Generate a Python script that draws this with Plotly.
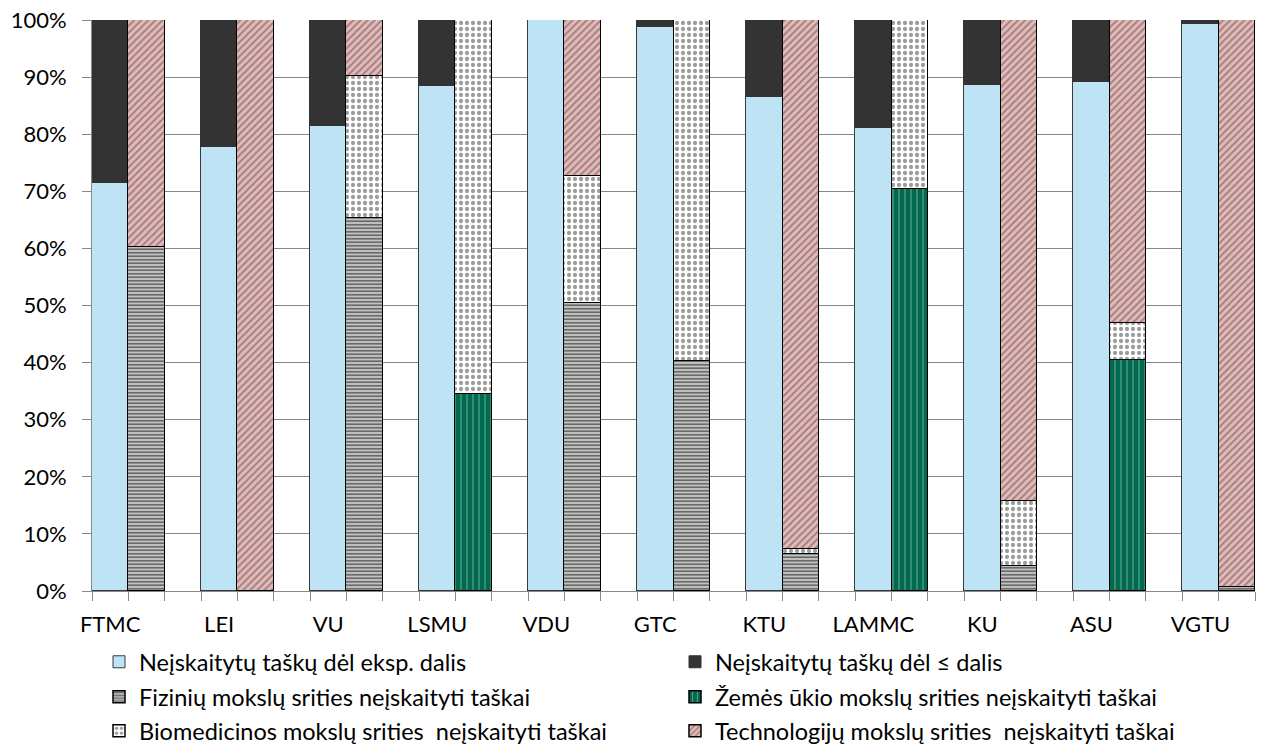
import plotly.graph_objects as go

categories = ["FTMC", "LEI", "VU", "LSMU", "VDU", "GTC", "KTU", "LAMMC", "KU", "ASU", "VGTU"]

# left bar of each group
eksp_dalis = [71.4, 77.8, 81.5, 88.5, 100.0, 98.7, 86.5, 81.0, 88.6, 89.1, 99.3]
le_dalis = [28.6, 22.2, 18.5, 11.5, 0.0, 1.3, 13.5, 19.0, 11.4, 10.9, 0.7]

# right bar of each group
fiziniu = [60.2, 0.0, 65.3, 0.0, 50.5, 40.3, 6.5, 0.0, 4.3, 0.0, 0.7]
zemes = [0.0, 0.0, 0.0, 34.5, 0.0, 0.0, 0.0, 70.4, 0.0, 40.5, 0.0]
biomed = [0.0, 0.0, 24.9, 65.5, 22.2, 59.7, 0.8, 29.6, 11.5, 6.5, 0.0]
techn = [39.8, 100.0, 9.8, 0.0, 27.3, 0.0, 92.7, 0.0, 84.2, 53.0, 99.3]

y_ticks = [0, 10, 20, 30, 40, 50, 60, 70, 80, 90, 100]

FONT = "Lato"
GRID = "#878787"

x_left = [3 * i for i in range(len(categories))]
x_right = [3 * i + 1 for i in range(len(categories))]


def nz(vals):
    return [v if v else None for v in vals]


fig = go.Figure()

fig.add_bar(
    x=x_left, y=nz(eksp_dalis), width=1, name="Neįskaitytų taškų dėl eksp. dalis",
    marker=dict(color="#BDE3F5", line=dict(color="#3a3a3a", width=1)),
    legend="legend", showlegend=True,
)
fig.add_bar(
    x=x_left, y=nz(le_dalis), width=1, name="Neįskaitytų taškų dėl ≤ dalis",
    marker=dict(color="#333333", line=dict(color="#333333", width=1)),
    legend="legend2", showlegend=True,
)
fig.add_bar(
    x=x_right, y=nz(fiziniu), width=1, name="Fizinių mokslų srities neįskaityti taškai",
    marker=dict(color="#c4c4c4", line=dict(color="#000000", width=1.5),
                pattern=dict(shape="-", fgcolor="#111111", size=3.5, solidity=0.5)),
    legend="legend3", showlegend=True,
)
fig.add_bar(
    x=x_right, y=nz(zemes), width=1, name="Žemės ūkio mokslų srities neįskaityti taškai",
    marker=dict(color="#006A4E", line=dict(color="#000000", width=1.5),
                pattern=dict(shape="|", fgcolor="#cfe3da", size=6, solidity=0.18)),
    legend="legend4", showlegend=True,
)
fig.add_bar(
    x=x_right, y=nz(biomed), width=1, name="Biomedicinos mokslų srities  neįskaityti taškai",
    marker=dict(color="#ffffff", line=dict(color="#000000", width=1.5),
                pattern=dict(shape=".", fgcolor="#3a3a3a", size=6, solidity=0.4)),
    legend="legend5", showlegend=True,
)
fig.add_bar(
    x=x_right, y=nz(techn), width=1, name="Technologijų mokslų srities  neįskaityti taškai",
    marker=dict(color="#E6B8B7", line=dict(color="#000000", width=1.5),
                pattern=dict(shape="/", fgcolor="#4a4a4a", size=5, solidity=0.35)),
    legend="legend6", showlegend=True,
)

L, R, T, B = 92, 8, 20, 160
W, H = 1263, 751
pw = W - L - R
ph = H - T - B


def px_x(p):
    return (p - L) / pw


def px_y(p):
    return (H - B - p) / ph


def leg(xp, yp):
    return dict(
        x=px_x(xp), y=px_y(yp), xanchor="left", yanchor="middle",
        orientation="v", font=dict(family=FONT, size=23.5, color="#000000"),
        bgcolor="rgba(0,0,0,0)", borderwidth=0,
    )


col1, col2 = 99, 675
rows = [662, 697, 731]

fig.update_layout(
    width=W, height=H,
    margin=dict(l=L, r=R, t=T, b=B, autoexpand=False),
    showlegend=True,
    barmode="stack", bargap=0,
    plot_bgcolor="white", paper_bgcolor="white",
    font=dict(family=FONT, size=22, color="#000000"),
    legend=leg(col1, rows[0]),
    legend2=leg(col2, rows[0]),
    legend3=leg(col1, rows[1]),
    legend4=leg(col2, rows[1]),
    legend5=leg(col1, rows[2]),
    legend6=leg(col2, rows[2]),
    xaxis=dict(
        range=[-0.5, 31.5], automargin=False,
        tickmode="array", tickvals=x_left, ticktext=categories,
        ticks="", showgrid=False, zeroline=False,
        showline=True, linecolor=GRID, linewidth=1,
        ticklabelstandoff=14,
        tickfont=dict(family=FONT, size=22, color="#000000"),
        minor=dict(ticks="outside", tickmode="linear", tick0=-0.5, dtick=1,
                   ticklen=9, tickcolor=GRID, tickwidth=1, showgrid=False),
    ),
    yaxis=dict(
        range=[0, 100], automargin=False,
        tickmode="array", tickvals=y_ticks, ticktext=[f"{v}%" for v in y_ticks],
        ticks="outside", ticklen=9, tickcolor=GRID, tickwidth=1,
        showgrid=True, gridcolor=GRID, gridwidth=1,
        zeroline=False, showline=True, linecolor=GRID, linewidth=1,
        ticklabelstandoff=11,
        tickfont=dict(family=FONT, size=22, color="#000000"),
    ),
)

fig.write_html(
    "out.html",
    config={"displayModeBar": False},
    post_script="document.body.style.margin='0';document.body.style.overflow='hidden';",
)
